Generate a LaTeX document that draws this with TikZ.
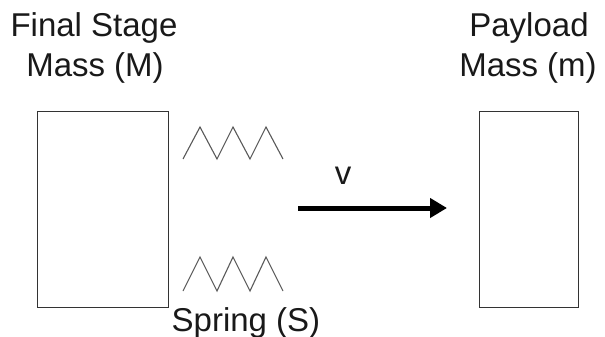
\documentclass[tikz,border=0pt]{standalone}
\usepackage{fontspec}
\setmainfont{Liberation Sans}
\usetikzlibrary{arrows.meta}
\begin{document}
\begin{tikzpicture}[x=1pt,y=-1pt,
  lbl/.style={anchor=base,inner sep=0pt,font=\fontsize{33}{40}\selectfont,text=black!90},
  massbox/.style={draw=black!80,line width=1pt,fill=white},
  springline/.style={draw=black!65,line width=1.1pt,line join=miter},
  velarrow/.style={line width=5pt,-{Triangle[length=17pt,width=19pt]}}]
\useasboundingbox (0,0) rectangle (605,337);
\node[lbl] (t1) at (94,37) {Final Stage};
\node[lbl] (t2) at (95,77) {Mass (M)};
\node[lbl] (p1) at (529,37) {Payload};
\node[lbl] (p2) at (528,77) {Mass (m)};
\node[lbl] (sp) at (246,331) {Spring (S)};
\node[lbl] (v) at (343,184) {v};
\node[massbox,minimum width=131pt,minimum height=196pt,inner sep=0pt] (M) at (102.5,209) {};
\node[massbox,minimum width=99pt,minimum height=196pt,inner sep=0pt] (m) at (528.5,209) {};
\draw[springline] (183,159) -- (200,127) -- (217,159) -- (233,127) -- (250,159) -- (266,127) -- (283,159);
\draw[springline] (183,291) -- (200,257) -- (217,291) -- (233,257) -- (250,291) -- (266,257) -- (283,291);
\coordinate (a0) at (298,208);
\coordinate (a1) at (447,208);
\draw[velarrow] (a0) -- (a1);
\end{tikzpicture}
\end{document}
